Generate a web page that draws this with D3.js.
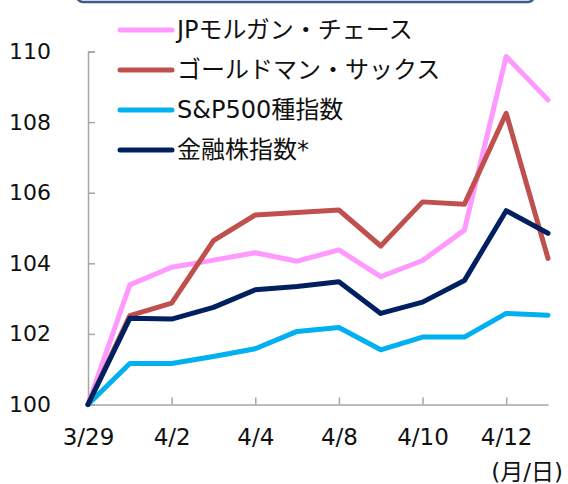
<!DOCTYPE html>
<html>
<head>
<meta charset="utf-8">
<script src="https://cdn.jsdelivr.net/npm/d3@7"></script>
<style>
  body { margin: 0; background: #fff; }
  text { font-family: "DejaVu Sans", "Noto Sans CJK JP", sans-serif; fill: #111; }
</style>
</head>
<body>
<div id="chart-area"></div>
<script>
const dates = ["3/29", "4/1", "4/2", "4/3", "4/4", "4/5", "4/8", "4/9", "4/10", "4/11", "4/12", "4/15"]
const jpm = [100, 103.39, 103.89, 104.09, 104.30, 104.06, 104.38, 103.62, 104.08, 104.94, 109.86, 108.63]
const gs = [100, 102.52, 102.87, 104.64, 105.37, 105.44, 105.51, 104.49, 105.74, 105.67, 108.25, 104.14]
const sp500 = [100, 101.16, 101.16, 101.36, 101.58, 102.07, 102.18, 101.55, 101.91, 101.91, 102.58, 102.53]
const finIdx = [100, 102.44, 102.42, 102.75, 103.25, 103.34, 103.48, 102.58, 102.90, 103.51, 105.49, 104.85]
const seriesNames = ["JPモルガン・チェース", "ゴールドマン・サックス", "S&P500種指数", "金融株指数*"]
const colors = ["#FF99FF", "#C0504D", "#00B0F0", "#002060"]
const yTicks = [100, 102, 104, 106, 108, 110]

const series = [jpm, gs, sp500, finIdx].map((values, i) => ({
  name: seriesNames[i],
  color: colors[i],
  values: values.map((v, j) => ({ date: dates[j], value: v }))
}))

const W = 568, H = 484

const svg = d3.select("#chart-area").append("svg")
  .attr("width", W)
  .attr("height", H)

// Scales
const x = d3.scalePoint()
  .domain(dates)
  .range([88, 548])
const y = d3.scaleLinear()
  .domain([100, 110])
  .range([404.5, 51.5])

// Y Axis
const yAxis = svg.append("g")
  .attr("transform", "translate(88, 0)")
  .call(d3.axisLeft(y)
    .tickValues(yTicks)
    .tickSizeInner(-7)
    .tickSizeOuter(-7)
    .tickPadding(37))
yAxis.selectAll("text").attr("font-size", "22px").attr("font-family", null)

// X Axis
const xAxis = svg.append("g")
  .attr("transform", "translate(0, 404.5)")
  .call(d3.axisBottom(x)
    .tickValues(dates.filter((d, i) => i % 2 === 0))
    .tickSizeInner(-7)
    .tickSizeOuter(0)
    .tickPadding(24))
xAxis.selectAll("text").attr("font-size", "23px").attr("font-family", null)

svg.selectAll(".domain, .tick line")
  .attr("stroke", "#A6A6A6")
  .attr("stroke-width", 1.5)

svg.append("text")
  .attr("x", 563)
  .attr("y", 472)
  .attr("dy", "0.35em")
  .attr("text-anchor", "end")
  .attr("font-size", "23px")
  .text("(月/日)")

// Lines
const line = d3.line()
  .x(d => x(d.date))
  .y(d => y(d.value))

svg.selectAll(".series")
  .data(series)
  .enter().append("path")
  .attr("class", "series")
  .attr("fill", "none")
  .attr("stroke", d => d.color)
  .attr("stroke-width", 5)
  .attr("stroke-linejoin", "round")
  .attr("stroke-linecap", "round")
  .attr("d", d => line(d.values))

// Legend
svg.append("rect")
  .attr("x", 77)
  .attr("y", -40)
  .attr("width", 457)
  .attr("height", 42)
  .attr("rx", 6)
  .attr("fill", "none")
  .attr("stroke", "#3D5C8C")
  .attr("stroke-width", 2.5)

const legend = svg.append("g")
  .attr("transform", "translate(120, 30)")

series.forEach((s, i) => {
  const row = legend.append("g")
    .attr("transform", `translate(0, ${i * 40})`)

  row.append("line")
    .attr("x1", 0)
    .attr("x2", 52)
    .attr("stroke", s.color)
    .attr("stroke-width", 5)
    .attr("stroke-linecap", "round")

  row.append("text")
    .attr("x", 57)
    .attr("dy", "0.35em")
    .attr("font-size", "24px")
    .text(s.name)
})
</script>
</body>
</html>
